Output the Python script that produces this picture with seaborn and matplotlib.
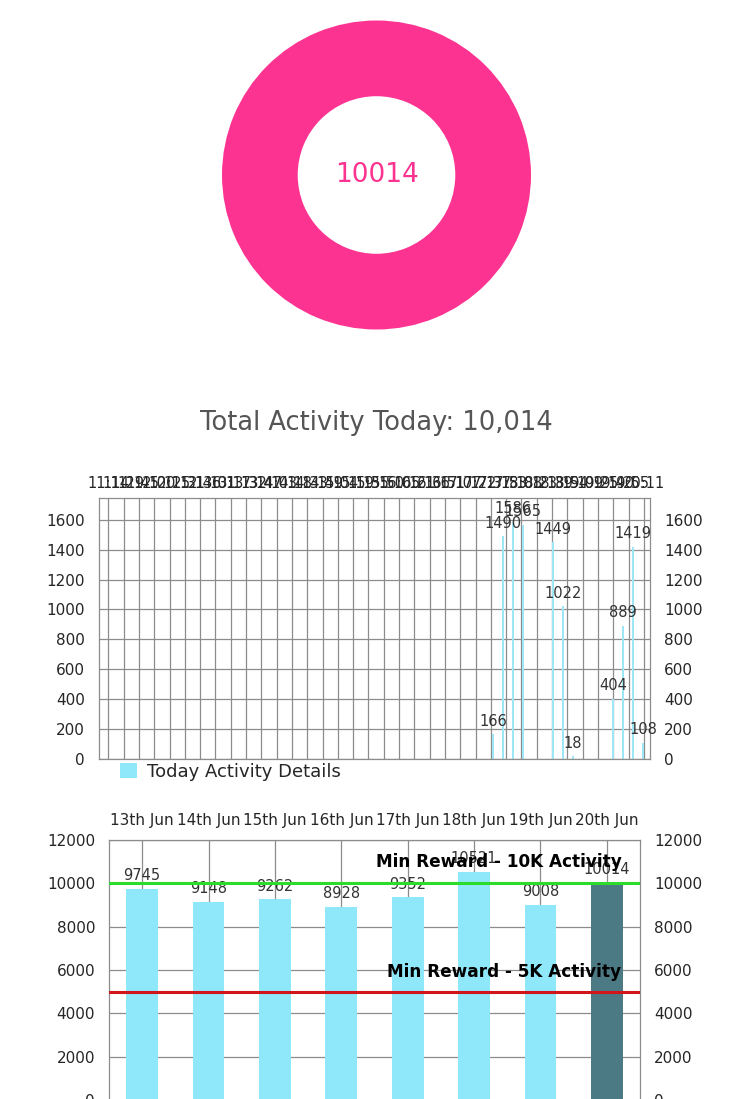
import matplotlib
matplotlib.use("Agg")
import matplotlib.pyplot as plt
from matplotlib.patches import Patch
import numpy as np
import pandas as pd
import seaborn as sns

# --- data -------------------------------------------------------------
total_today = 10014

# today's activity, 10 minute buckets
slot_times = ["17:40", "17:50", "18:00", "18:10", "18:40", "18:50",
              "19:00", "19:40", "19:50", "20:00", "20:10"]
slot_steps = [166, 1490, 1586, 1565, 1449, 1022, 18, 404, 889, 1419, 108]

time_ticks = ["11:14", "11:29", "11:45", "12:00", "12:15", "12:31", "12:46",
              "13:01", "13:17", "13:32", "13:47", "14:03", "14:18", "14:33",
              "14:49", "15:04", "15:19", "15:35", "15:50", "16:05", "16:21",
              "16:36", "16:51", "17:07", "17:22", "17:37", "17:53", "18:08",
              "18:23", "18:39", "18:54", "19:09", "19:25", "19:40", "19:55",
              "20:11"]

days = ["13th Jun", "14th Jun", "15th Jun", "16th Jun",
        "17th Jun", "18th Jun", "19th Jun", "20th Jun"]
day_steps = [9745, 9148, 9262, 8928, 9352, 10521, 9008, 10014]

# --- style ------------------------------------------------------------
sns.set_style("white")
plt.rcParams["font.family"] = ["DejaVu Sans"]

PINK = "#fd3391"
CYAN = "#8fe7fa"
TEAL = "#4b7a85"
GRID = "#8c8c8c"
W, H = 750, 1099


def px(x0, y0, x1, y1):
    return [x0 / W, 1 - y1 / H, (x1 - x0) / W, (y1 - y0) / H]


def to_min(t):
    h, m = t.split(":")
    return int(h) * 60 + int(m)


fig = plt.figure(figsize=(W / 100, H / 100), dpi=100)

# --- donut ------------------------------------------------------------
ax1 = fig.add_axes(px(222, 20, 531, 330))
ax1.pie([total_today], colors=[PINK], radius=1, startangle=90,
        wedgeprops=dict(width=0.49, linewidth=0))
ax1.set_xlim(-1, 1)
ax1.set_ylim(-1, 1)
ax1.set_aspect("equal")
ax1.text(0, 0, str(total_today), ha="center", va="center",
         color=PINK, fontsize=19)

fig.text(376 / W, 1 - 423 / H, f"Total Activity Today: {total_today:,}",
         ha="center", va="center", color="#555555", fontsize=18.5)

# --- today's detail chart --------------------------------------------
ax2 = fig.add_axes(px(99, 498, 650, 759))
df_today = pd.DataFrame({"minute": [to_min(t) for t in slot_times],
                         "steps": slot_steps})
sns.barplot(data=df_today, x="minute", y="steps", native_scale=True,
            width=0.22, color="#9ce6f6", saturation=1, linewidth=0,
            ax=ax2)
x_start = 666
ax2.set_xlim(x_start, x_start + 551)
ax2.set_ylim(0, 1745)
ax2.bar_label(ax2.containers[0], labels=[str(v) for v in slot_steps],
              padding=4, fontsize=10.5, color="#333333")

grid_pos = x_start + 9.3 + 15.3 * np.arange(len(time_ticks))
ax2.xaxis.tick_top()
ax2.set_xticks(grid_pos)
ax2.set_xticklabels(time_ticks, fontsize=10.5)
ax2.set_yticks(np.arange(0, 1601, 200))
ax2.tick_params(axis="y", labelleft=True, labelright=True, labelsize=11,
                length=0, pad=10)
ax2.tick_params(axis="x", length=0, pad=5)
ax2.grid(True, color=GRID, linewidth=0.9)
ax2.set_axisbelow(True)
ax2.set_xlabel("")
ax2.set_ylabel("")
for s in ax2.spines.values():
    s.set_color(GRID)
    s.set_linewidth(0.9)

fig.legend(handles=[Patch(facecolor=CYAN, edgecolor="none")],
           labels=["Today Activity Details"], loc="center left",
           bbox_to_anchor=(104 / W, 1 - 772 / H), frameon=False,
           handlelength=0.9, handleheight=0.9, handletextpad=0.6,
           fontsize=13)

# --- weekly chart -----------------------------------------------------
ax3 = fig.add_axes(px(109, 840, 640, 1100))
df_week = pd.DataFrame({"day": days, "steps": day_steps})
bar_colors = [CYAN] * (len(days) - 1) + [TEAL]
sns.barplot(data=df_week, x="day", y="steps", hue="day", palette=bar_colors,
            width=0.48, saturation=1, linewidth=0, legend=False, ax=ax3)
ax3.set_xlim(-0.5, len(days) - 0.5)
ax3.set_ylim(0, 12000)
for cont, v in zip(ax3.containers, day_steps):
    ax3.bar_label(cont, labels=[str(v)], padding=4, fontsize=10.5,
                  color="#333333")

ax3.xaxis.tick_top()
ax3.tick_params(axis="x", length=0, pad=9, labelsize=11)
ax3.set_yticks(np.arange(0, 12001, 2000))
ax3.tick_params(axis="y", labelleft=True, labelright=True, labelsize=11,
                length=0, pad=10)
ax3.grid(True, color=GRID, linewidth=0.9)
ax3.set_axisbelow(True)
ax3.set_xlabel("")
ax3.set_ylabel("")
for s in ax3.spines.values():
    s.set_color(GRID)
    s.set_linewidth(0.9)

ax3.axhline(10000, color="#2bdc2b", linewidth=2.2, zorder=3)
ax3.axhline(5000, color="#d0161b", linewidth=2.2, zorder=3)
ax3.text(len(days) - 0.78, 10750, "Min Reward - 10K Activity", ha="right",
         va="baseline", fontsize=12.2, fontweight="bold", color="black",
         zorder=4)
ax3.text(len(days) - 0.78, 5700, "Min Reward - 5K Activity", ha="right",
         va="baseline", fontsize=12.2, fontweight="bold", color="black",
         zorder=4)

fig.savefig("out.png", dpi=100)
